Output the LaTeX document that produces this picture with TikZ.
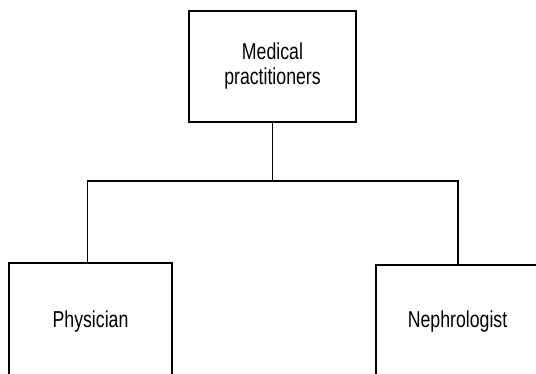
\documentclass[tikz,border=0pt]{standalone}
\usepackage{fontspec}
\setmainfont{Liberation Sans}
\newcommand{\narrowtxt}[1]{\scalebox{0.77}[1]{#1}}
\begin{document}
\begin{tikzpicture}[x=1pt,y=1pt,
  orgbox/.style={draw=black, line width=1.9pt, rectangle, inner sep=0pt,
    font=\fontsize{23}{25}\selectfont, align=center},
  link/.style={draw=black, line width=1.9pt}]
  \useasboundingbox (0,0) rectangle (536,-373);
  \clip (0,0) rectangle (536,-373);
  % head of the hierarchy
  \node[orgbox, minimum width=167pt, minimum height=111pt] (top) at (272.5,-66.5)
    {\narrowtxt{Medical}\\\narrowtxt{practitioners}};
  % the two branches, running past the lower and right edges
  \node[orgbox, minimum width=163pt, minimum height=122pt,
        text height=16.5pt, text depth=9.5pt] (phys) at (90.5,-324)
    {\narrowtxt{Physician}};
  \node[orgbox, minimum width=180pt, minimum height=120pt,
        text height=16.5pt, text depth=11.1pt] (neph) at (466,-325)
    {\narrowtxt{\hspace*{-22pt}Nephrologist}};
  % tree connectors
  \coordinate (bus) at (272.5,-181);
  \draw[link] (top.south) -- (bus);
  \draw[link] ([xshift=-3pt]phys.north) |- (bus) -| ([xshift=-8pt]neph.north);
\end{tikzpicture}
\end{document}
